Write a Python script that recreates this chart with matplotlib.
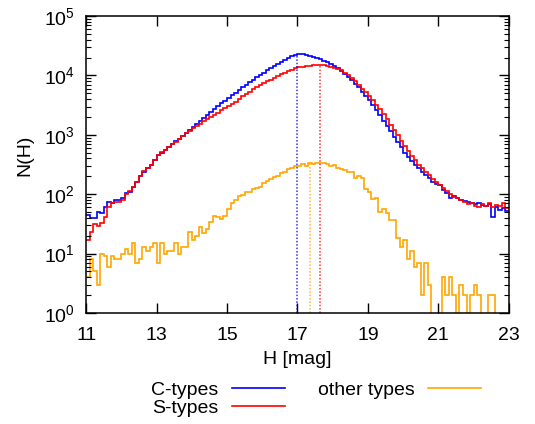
import numpy as np
import matplotlib
matplotlib.use("Agg")
import matplotlib.pyplot as plt
from matplotlib.lines import Line2D

# 0.1 mag bins from H = 11.0 to 23.0
bin_edges = np.round(np.arange(11.0, 23.05, 0.1), 2)

n_ctype = [45, 39, 40, 51, 48, 62, 74, 72, 80, 79,
           86, 104, 110, 134, 162, 203, 240, 276, 310, 375,
           455, 500, 550, 615, 690, 775, 850, 955, 1070, 1200,
           1350, 1510, 1700, 1900, 2140, 2400, 2690, 3020, 3390, 3760,
           4170, 4620, 5130, 5690, 6310, 7000, 7760, 8510, 9330, 10230,
           11220, 12300, 13490, 14620, 15850, 17180, 18410, 19720, 20890, 22130,
           23440, 22910, 22130, 21380, 20420, 19500, 18620, 17580, 16600, 15490,
           14450, 13180, 12020, 10720, 9550, 8320, 7240, 6310, 5370, 4570,
           3890, 3240, 2630, 2140, 1740, 1410, 1150, 933, 759, 617,
           501, 427, 363, 309, 275, 240, 214, 191, 158, 151,
           141, 117, 105, 85, 95, 85, 81, 76, 74, 72,
           68, 71, 66, 63, 69, 42, 60, 55, 58, 52]

n_stype = [17, 23, 32, 29, 33, 42, 62, 72, 75, 75,
           80, 100, 112, 132, 160, 200, 245, 272, 315, 370,
           450, 505, 545, 612, 688, 772, 850, 952, 1065, 1180,
           1300, 1420, 1550, 1690, 1830, 1980, 2150, 2340, 2570, 2820,
           3020, 3310, 3630, 4070, 4470, 4900, 5370, 5890, 6310, 6920,
           7410, 7940, 8510, 9120, 9770, 10470, 11220, 11890, 12590, 13180,
           13800, 14130, 14450, 14620, 14790, 14790, 14960, 14790, 14450, 13960,
           13490, 12880, 12160, 11220, 10230, 9120, 7940, 6920, 6030, 5250,
           4570, 3890, 3240, 2690, 2240, 1820, 1480, 1200, 977, 794,
           646, 537, 447, 372, 316, 275, 240, 209, 178, 158,
           145, 126, 112, 102, 91, 87, 79, 74, 68, 71,
           63, 62, 68, 63, 72, 62, 66, 63, 71, 59]

n_other = [4, 8, 5, 3, 10, 9, 6, 9, 8, 8,
           10, 12, 10, 15, 7, 8, 13, 11, 13, 15,
           7, 15, 10, 11, 11, 15, 10, 13, 13, 23,
           17, 20, 28, 22, 26, 34, 43, 41, 38, 43,
           56, 71, 80, 93, 97, 109, 109, 122, 127, 133,
           155, 167, 180, 193, 203, 225, 235, 266, 280, 295,
           300, 320, 300, 340, 320, 330, 330, 330, 320, 300,
           315, 275, 265, 255, 235, 235, 190, 200, 190, 122,
           110, 83, 87, 50, 56, 48, 37, 37, 18, 13,
           17, 8, 11, 6, 7, 2, 7, 3, 0, 0,
           0, 4, 2, 4, 2, 0, 3, 2, 0, 2,
           3, 2, 0, 0, 2, 2, 0, 0, 0, 0]

labels = ["C-types", "S-types", "other types"]
colors = ["#0000ff", "#ff0000", "#ffa500"]
# positions of the dotted markers (H) for each population
marker_h = [17.0, 17.64, 17.37]

plt.rcParams["font.family"] = ["Liberation Sans", "DejaVu Sans"]
plt.rcParams["font.size"] = 14
plt.rcParams["mathtext.fontset"] = "custom"
plt.rcParams["mathtext.rm"] = "Liberation Sans"

fig = plt.figure(figsize=(5.35, 4.24), dpi=100)
ax = fig.add_axes([0.161, 0.262, 0.79, 0.700])

series = [n_ctype, n_stype, n_other]
for vals, lab, col, hm in zip(series, labels, colors, marker_h):
    v = np.array(vals, dtype=float)
    vplot = np.where(v > 0, v, 0.3)
    ax.stairs(vplot, bin_edges, baseline=None, color=col, lw=1.2, label=lab)
    k = int((hm - 11.0) / 0.1)
    ax.vlines(hm, 1, v[k], colors=col, linestyles=(0, (1, 1.2)), lw=1.1, alpha=0.8)

ax.set_yscale("log")
ax.set_xlim(11, 23)
ax.set_ylim(1, 1e5)
ax.set_xticks(np.arange(11, 24, 2))
ax.yaxis.set_minor_locator(matplotlib.ticker.LogLocator(base=10, subs=np.arange(2, 10)))
ax.xaxis.set_minor_locator(matplotlib.ticker.NullLocator())
ax.tick_params(which="both", direction="in", top=True, right=True)
ax.tick_params(which="major", length=7, width=1.0)
ax.tick_params(which="minor", length=3.5, width=0.8)
ax.tick_params(axis="x", pad=10)
ax.tick_params(axis="y", pad=8)
for s in ax.spines.values():
    s.set_linewidth(1.1)

ax.set_xlabel("H [mag]", labelpad=5)
ax.set_ylabel("N(H)")
ax.yaxis.set_label_coords(-0.125, 0.53)

leg_handles = [Line2D([], [], color=c, lw=1.2) for c in colors]
fig.legend(leg_handles, labels,
           ncol=2, loc="center", bbox_to_anchor=(316 / 535, 1 - 399 / 424),
           frameon=False, markerfirst=False, handlelength=2.7,
           handletextpad=0.7, columnspacing=1.7, labelspacing=0.0,
           borderpad=0.1)

fig.savefig("out.png", dpi=100)
